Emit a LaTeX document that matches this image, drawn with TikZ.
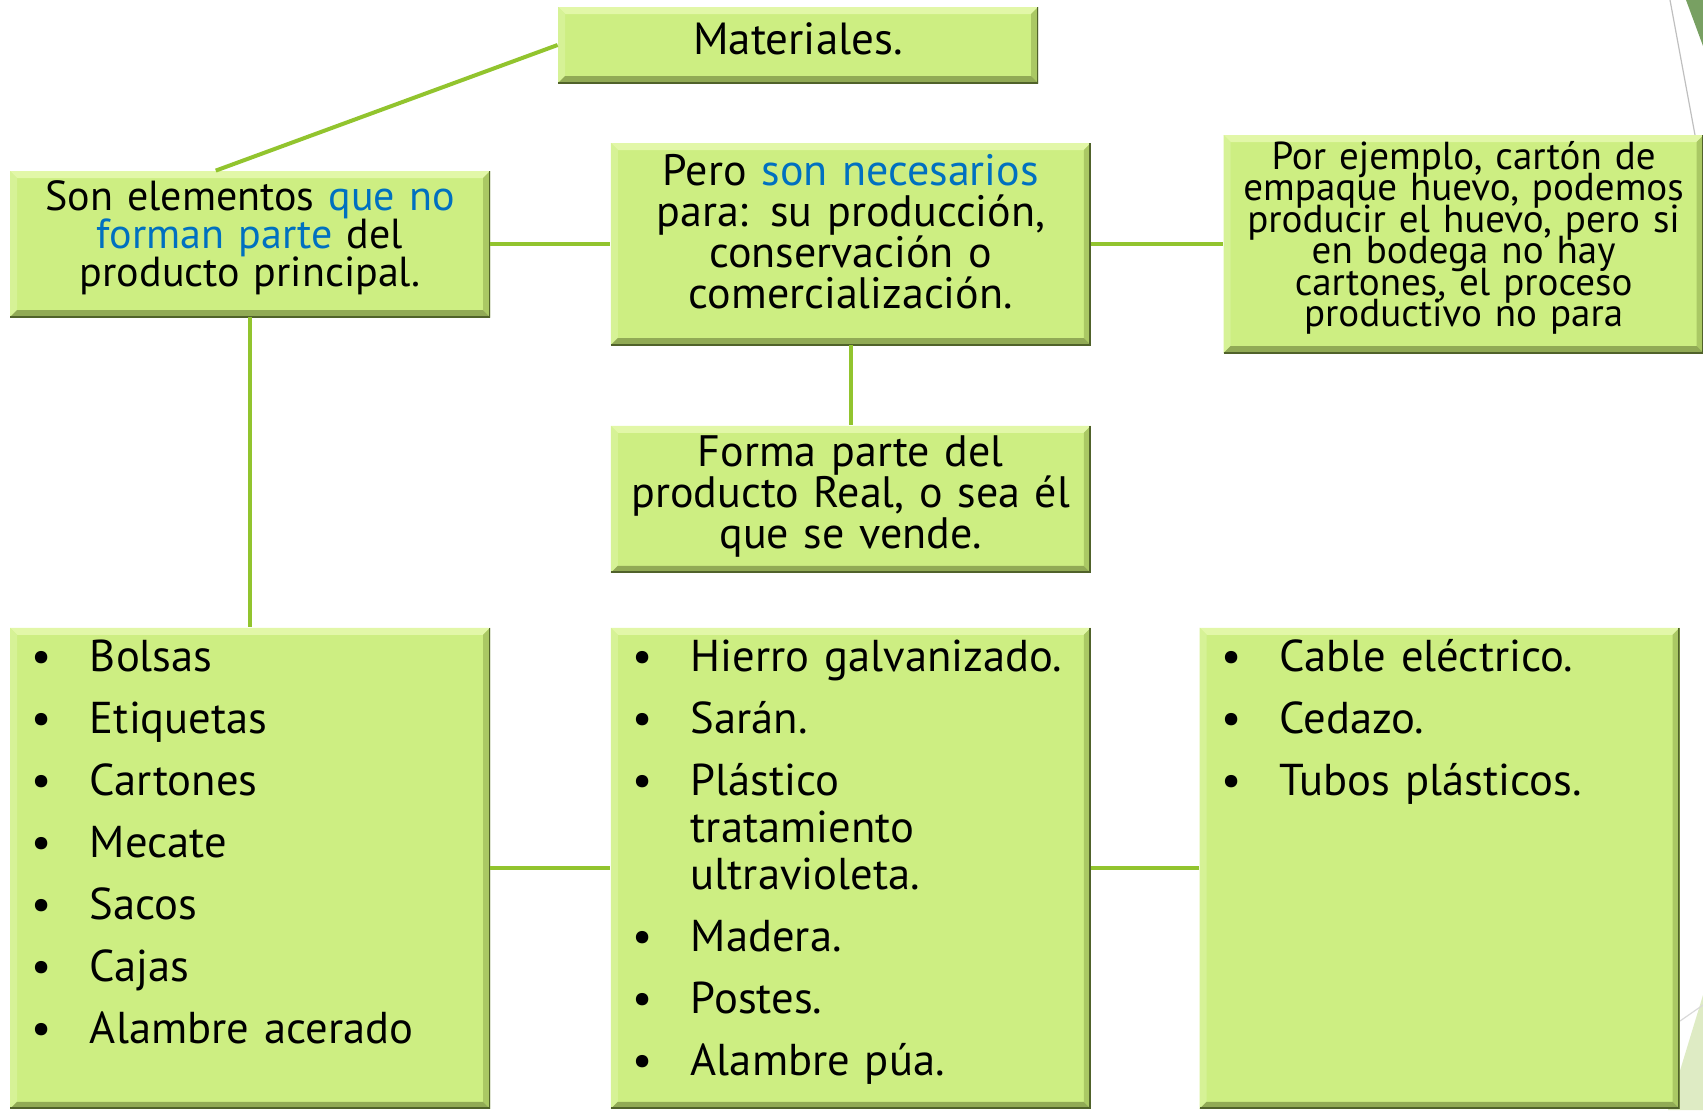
\documentclass[tikz,border=0pt]{standalone}
\usepackage{fontspec}
\setmainfont{PT Sans}
\usetikzlibrary{graphs,positioning}
\definecolor{boxgreen}{RGB}{205,238,130}
\definecolor{boxlight}{RGB}{226,247,168}
\definecolor{boxleft}{RGB}{214,242,150}
\definecolor{boxshade}{RGB}{170,200,100}
\definecolor{boxdark}{RGB}{80,98,42}
\definecolor{linkgreen}{RGB}{146,196,46}
\definecolor{textblue}{RGB}{0,112,192}
\definecolor{slidegreen}{RGB}{120,160,98}
\definecolor{slidepale}{RGB}{222,235,196}
\newcommand{\bul}[1]{\noindent\hangindent=40pt\hangafter=1\makebox[40pt][l]{\hspace{11pt}\textbullet}#1\par}
\newcommand{\boxfont}[2]{\fontsize{#1}{#2}\selectfont\lineskiplimit=-20pt}
\tikzset{
    box/.style ={
        shape=rectangle,
        fill=boxgreen,
        minimum width=240pt,
        text width=226pt,
        align=center,
        inner sep=0pt,
        font=\boxfont{22}{20.5},
        path picture={
            \coordinate (nw) at (path picture bounding box.north west);
            \coordinate (ne) at (path picture bounding box.north east);
            \coordinate (sw) at (path picture bounding box.south west);
            \coordinate (se) at (path picture bounding box.south east);
            \fill[boxlight] (nw) -- (ne) -- ([shift={(-3.5pt,-3.5pt)}]ne) -- ([shift={(3.5pt,-3.5pt)}]nw) -- cycle;
            \fill[boxleft] (nw) -- (sw) -- ([shift={(3.5pt,3.5pt)}]sw) -- ([shift={(3.5pt,-3.5pt)}]nw) -- cycle;
            \fill[boxshade] (ne) -- (se) -- ([shift={(-3.5pt,3.5pt)}]se) -- ([shift={(-3.5pt,-3.5pt)}]ne) -- cycle;
            \fill[boxshade!85!black] (sw) -- (se) -- ([shift={(-3.5pt,3.5pt)}]se) -- ([shift={(3.5pt,3.5pt)}]sw) -- cycle;
            \draw[boxdark,line width=1.4pt] (ne) -- (se) -- (sw);
        }
    },
    listbox/.style ={
        box,
        text width=240pt,
        align=left,
        minimum height=240.5pt,
        font=\boxfont{22.3}{23.5}
    },
    link/.style ={
        draw=linkgreen,
        line width=2pt
    }
}

\begin{document}
\begin{tikzpicture}[x=0.5pt,y=-0.5pt]
    \useasboundingbox (0,0) rectangle (1703,1110);
    % slide decoration
    \fill[slidegreen] (1686,0) -- (1703,0) -- (1703,46) -- cycle;
    \draw[gray!50,line width=0.6pt] (1670,0) -- (1695,135);
    \fill[slidepale] (1703,995) -- (1668,1110) -- (1703,1110) -- cycle;
    \draw[gray!30,line width=0.6pt] (1680,1021) -- (1703,1005);

    \node[box,minimum height=38pt,font=\boxfont{22.5}{20.5},text depth=6.5pt] (mat) at (798,45) {Materiales.};
    \node[box,minimum height=73pt,font=\boxfont{21}{19},text depth=48pt] (son) at (250,244)
        {Son elementos {\color{textblue}que no}\\{\color{textblue}forman parte} del\\producto principal.};
    \node[box,minimum height=101pt,right=60pt of son,text depth=74.5pt] (pero)
        {Pero {\color{textblue}son necesarios}\\para: su producción,\\conservación o\\comercialización.};
    \node[box,minimum height=109pt,right=66pt of pero,font=\boxfont{19.5}{15.75},text depth=89pt] (ejem)
        {Por ejemplo, cartón de\\empaque huevo, podemos\\producir el huevo, pero si\\en bodega no hay\\cartones, el proceso\\productivo no para};
    \node[box,minimum height=73.5pt,below=40pt of pero,text depth=48.3pt] (forma)
        {Forma parte del\\producto Real, o sea él\\que se vende.};
    \node[listbox,below=155pt of son] (lista1) {\parbox[c][240.5pt][t]{240pt}{\parskip=7.5pt\vspace*{-1.5pt}
        \bul{Bolsas}\bul{Etiquetas}\bul{Cartones}\bul{Mecate}\bul{Sacos}\bul{Cajas}\bul{Alambre acerado}}};
    \node[listbox,right=60pt of lista1] (lista2) {\parbox[c][240.5pt][t]{240pt}{\parskip=7.5pt\vspace*{-1.5pt}
        \bul{Hierro galvanizado.}\bul{Sarán.}\bul{Plástico\\tratamiento\\ultravioleta.}\bul{Madera.}\bul{Postes.}\bul{Alambre púa.}}};
    \node[listbox,right=54pt of lista2] (lista3) {\parbox[c][240.5pt][t]{240pt}{\parskip=7.5pt\vspace*{-1.5pt}
        \bul{Cable eléctrico.}\bul{Cedazo.}\bul{Tubos plásticos.}}};

    \draw[link] (mat.west) -- (son.115);
    \graph[edges={link}]{
        (son)--(pero)--(ejem);
        (pero)--(forma);
        (son)--(lista1);
        (lista1)--(lista2)--(lista3);
    };
\end{tikzpicture}
\end{document}
